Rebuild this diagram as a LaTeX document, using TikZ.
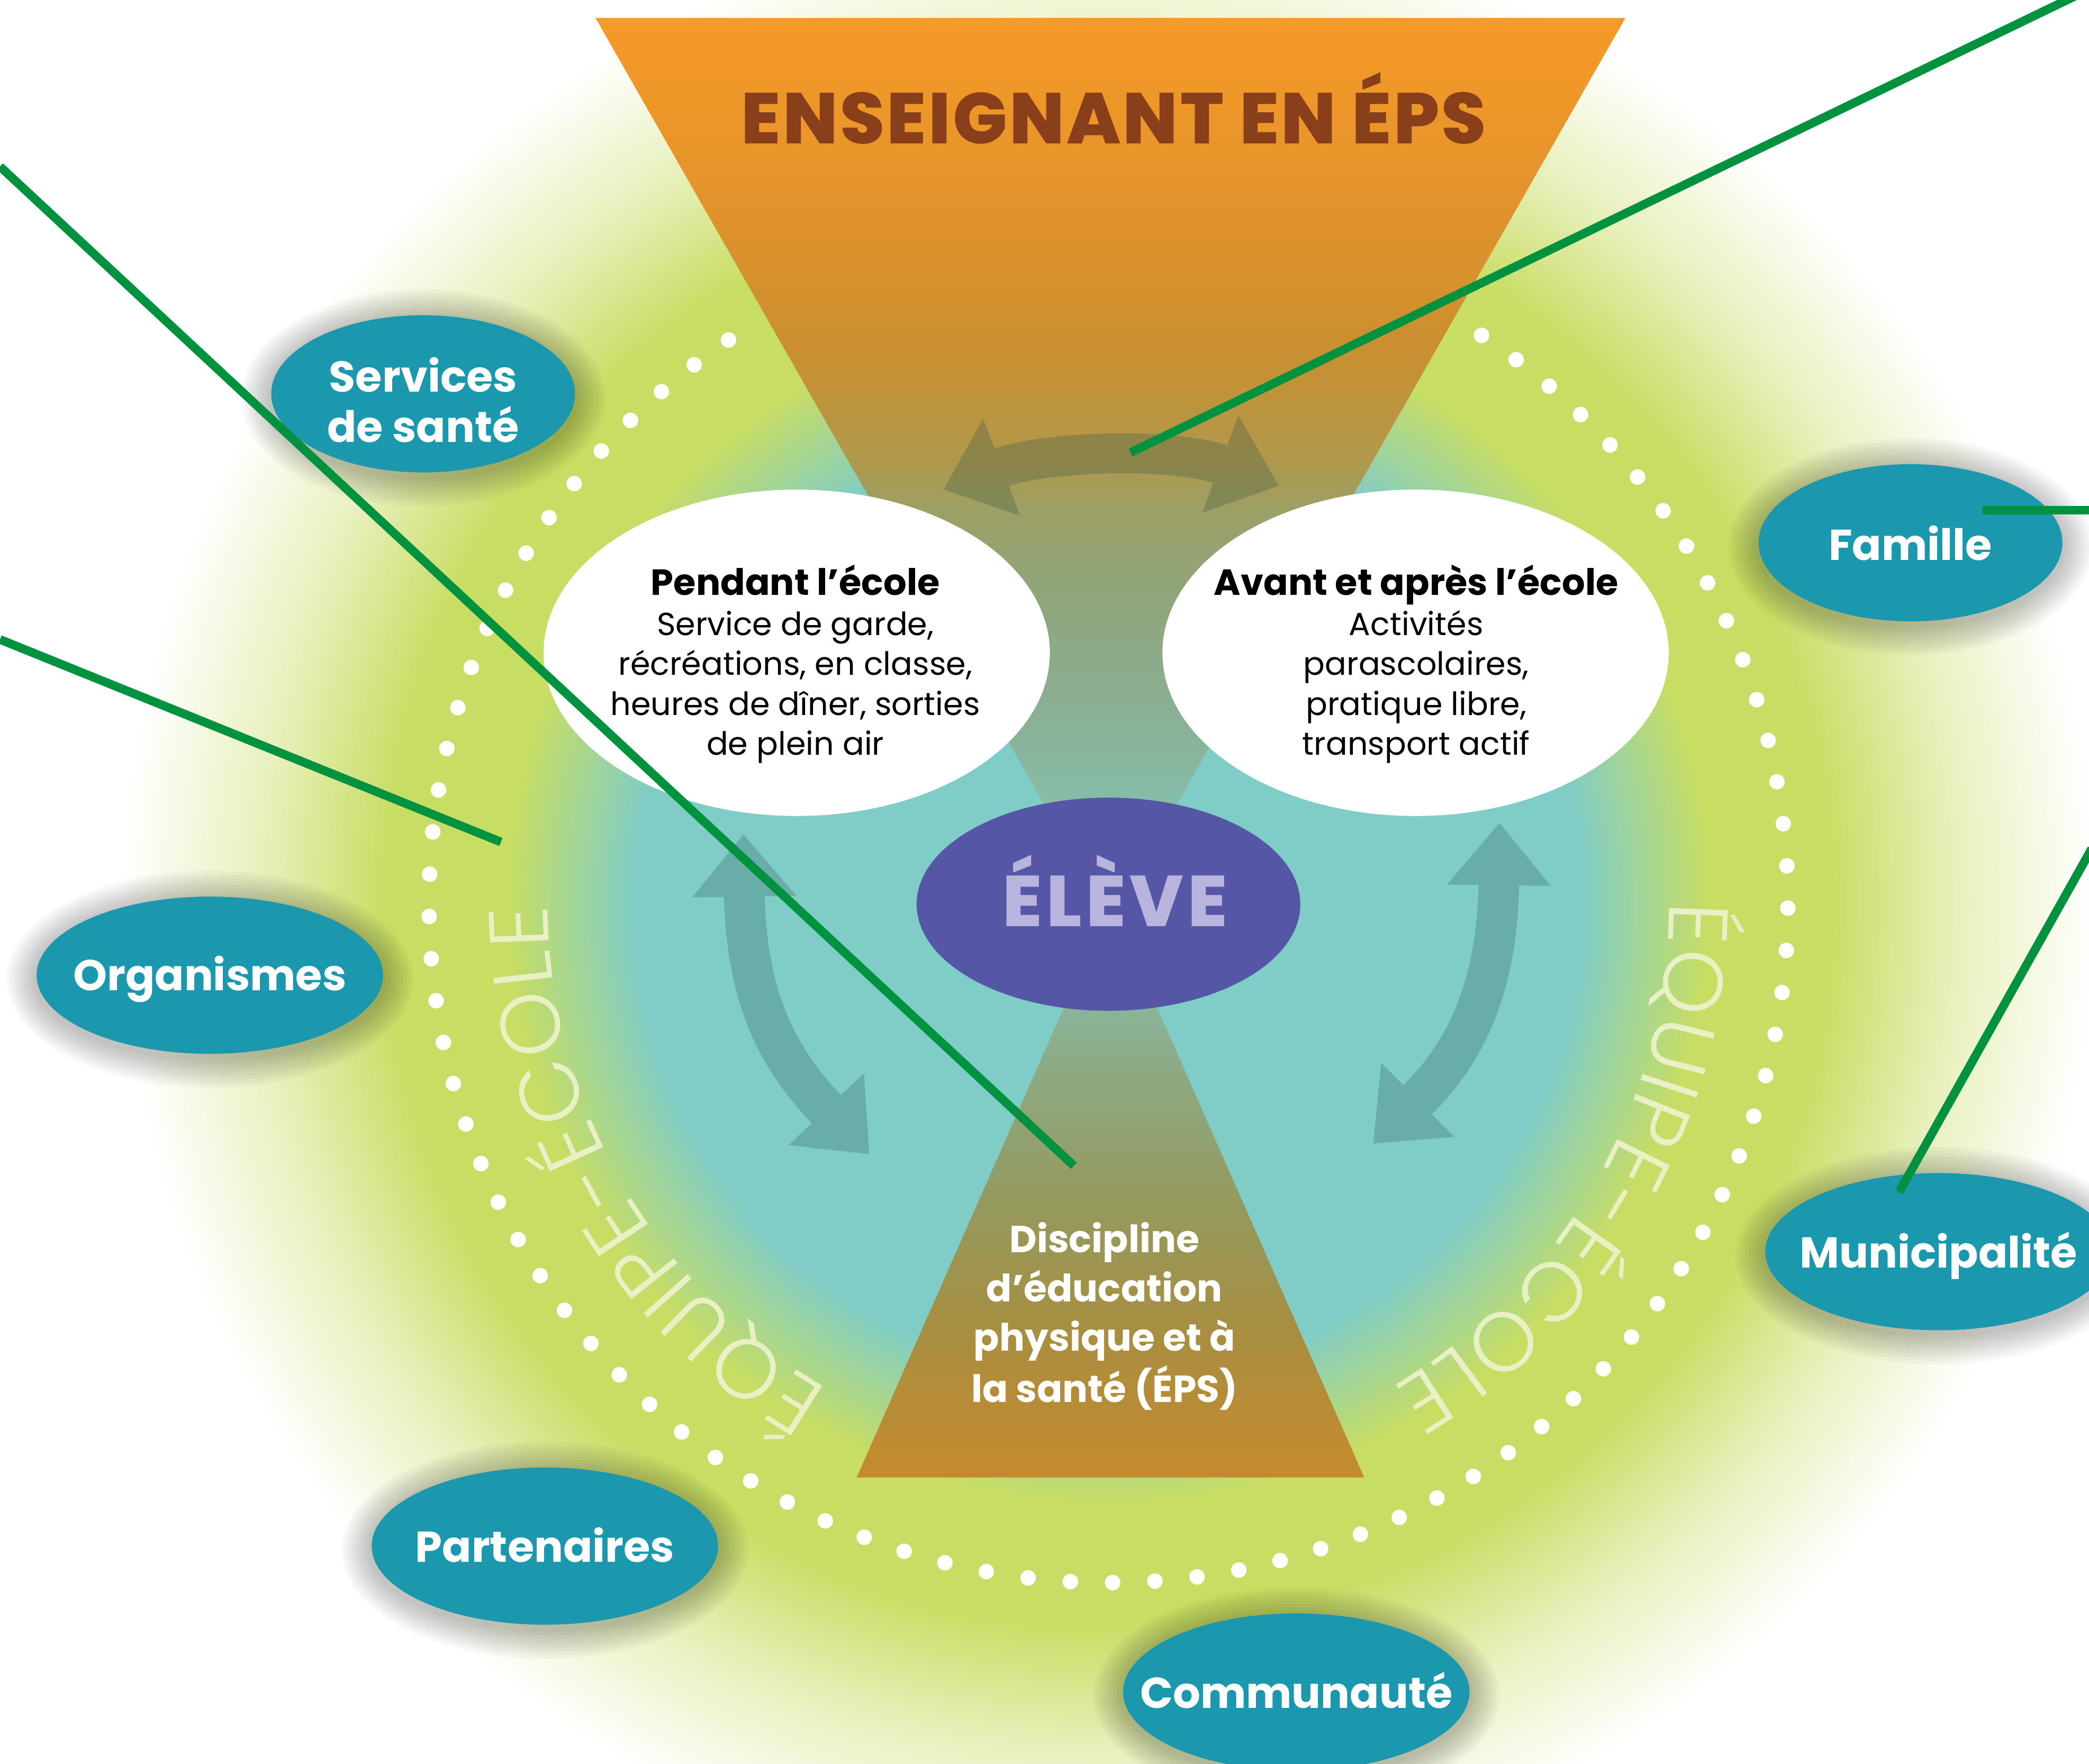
\documentclass[tikz,border=0pt]{standalone}
\usepackage{fontspec}
\setmainfont{Poppins}
\IfFontExistsTF{Poppins Light}{\newfontfamily\eqfam{Poppins Light}}{\newfontfamily\eqfam{Poppins}}
\IfFontExistsTF{Poppins ExtraBold}{\newfontfamily\heavyfam{Poppins ExtraBold}[LetterSpace=3]}{\newfontfamily\heavyfam{Poppins}[LetterSpace=3,FakeBold=1]}
\IfFontExistsTF{Poppins ExtraBold}{\newfontfamily\elevefam{Poppins ExtraBold}[LetterSpace=6]}{\newfontfamily\elevefam{Poppins}[LetterSpace=6,FakeBold=1]}
\usetikzlibrary{arrows.meta,decorations.text,calc,shapes.geometric}
\newcommand\myfs[2]{\fontsize{#1}{#2}\selectfont}

\definecolor{tealbg}{HTML}{80CDC7}
\definecolor{greenbg}{HTML}{C8DD63}
\definecolor{glowlt}{HTML}{E8F0BC}
\definecolor{bluelab}{HTML}{1B97AE}
\definecolor{eleve}{HTML}{5557A6}
\definecolor{elevetxt}{HTML}{B9B4DE}
\definecolor{ensbrown}{HTML}{8A3F1B}
\definecolor{leader}{HTML}{00923F}
\definecolor{sidearrow}{HTML}{69ADA9}
\definecolor{toparrow}{HTML}{5A6A4A}
\definecolor{eqtxt}{HTML}{E9F1C4}
% top funnel colours (bottom -> top)
\definecolor{t0}{HTML}{80CDC7}
\definecolor{t1}{HTML}{86BCA8}
\definecolor{t2}{HTML}{8BAE90}
\definecolor{t3}{HTML}{90A47A}
\definecolor{t4}{HTML}{9BA066}
\definecolor{t5}{HTML}{B2984A}
\definecolor{t6}{HTML}{CB8F2F}
\definecolor{t7}{HTML}{E3932B}
\definecolor{t8}{HTML}{F69A28}
% bottom triangle colours (bottom -> top)
\definecolor{b0}{HTML}{C68A2E}
\definecolor{b1}{HTML}{A88E40}
\definecolor{b2}{HTML}{959A5E}
\definecolor{b3}{HTML}{8DAA85}
\definecolor{b4}{HTML}{88B8A0}
\definecolor{b5}{HTML}{82C8BE}

% TikZ maps the central 50bp x 50bp of a shading onto the path's bounding box
\pgfdeclareradialshading{glowshade}{\pgfpoint{0bp}{0bp}}{color(0bp)=(tealbg); color(12bp)=(tealbg); color(15.25bp)=(greenbg); color(18.25bp)=(greenbg); color(21.5bp)=(glowlt); color(25bp)=(white); color(50bp)=(white)}
\pgfdeclareverticalshading{topshade}{100bp}{color(0bp)=(t0); color(25bp)=(t0); color(31.7bp)=(t1); color(37.25bp)=(t2); color(43.45bp)=(t3); color(47.6bp)=(t4); color(50.9bp)=(t5); color(56.85bp)=(t6); color(64.95bp)=(t7); color(75bp)=(t8); color(100bp)=(t8)}
\pgfdeclareverticalshading{botshade}{100bp}{color(0bp)=(b0); color(25bp)=(b0); color(37.5bp)=(b1); color(49bp)=(b2); color(60.75bp)=(b3); color(67.5bp)=(b4); color(75bp)=(b5); color(100bp)=(b5)}

\tikzset{
  blueell/.style={ellipse, fill=bluelab, inner sep=0pt, minimum height=118},
  bluetxt/.style={anchor=base, inner sep=0pt, text=white, font=\bfseries\myfs{32.4}{36}},
  whiteell/.style={ellipse, fill=white, inner sep=0pt, minimum width=380, minimum height=245},
  bodytxt/.style={anchor=base, inner sep=0pt, text=black, font=\myfs{24}{30}},
  headtxt/.style={font=\bfseries\myfs{27.3}{30}},
  leaderline/.style={draw=leader, line width=6.5},
  dblarrow/.style={{Triangle[length=47pt,width=75pt]}-{Triangle[length=47pt,width=75pt]}},
}

\newcommand\blueblob[6]{%
  \foreach \k in {1,...,9}{\fill[black,opacity=0.028] (#2,#3-3) ellipse[x radius={#4/2+2.5*\k}, y radius={59+2.5*\k}];}
  \node[blueell, minimum width=#4] (#1) at (#2,#3) {};
  \node[bluetxt] (#1txt) at (#2,#3-#5) {#6};
}

\begin{document}
\begin{tikzpicture}[x=1pt,y=1pt]
\useasboundingbox (0,0) rectangle (1568,-1324);
\clip (0,0) rectangle (1568,-1324);
\fill[white] (0,0) rectangle (1568,-1324);
\coordinate (C) at (832,-678);

% glow
\shade[shading=glowshade] (C) circle[radius=740];

% dotted ring
\foreach \i in {0,...,82} \fill[white] ($(C)+({124+\i*3.5695}:510)$) circle[radius=5.8];

% curved texts
\path[decorate, decoration={text along path, text align={fit to path}, text color=eqtxt,
  text={|\eqfam\myfs{63}{63}|ÉQUIPE-ÉCOLE}}]
  ($(C)+(240:421)$) arc[start angle=240, end angle=180.2, radius=421];
\path[decorate, decoration={text along path, text align={fit to path}, text color=eqtxt,
  text={|\eqfam\myfs{63}{63}|ÉQUIPE-ÉCOLE}}]
  ($(C)+(0.2:421)$) arc[start angle=0.2, end angle=-59.6, radius=421];

% funnels
\shade[shading=topshade] (447,-13.5) -- (1220,-13.5) -- (833.5,-691) -- cycle;
\shade[shading=botshade] (643,-1109) -- (1024,-1109) -- (833.5,-677) -- cycle;

% top double arrow
\coordinate (taL) at (708,-367.5);
\coordinate (taR) at (960,-364.7);
\begin{scope}[transparency group, opacity=0.42]
\draw[toparrow, line width=30, dblarrow] (taL) .. controls (785,-338) and (883,-336) .. (taR);
\end{scope}

% white ellipses
\node[whiteell] (pend) at (598,-490) {};
\node[whiteell] (avap) at (1062.5,-490) {};
\node[bodytxt] (pendtxt) at (597,-446.8) {\begin{tabular}[t]{@{}c@{}}{\bfseries\myfs{27.3}{30}Pendant l’école}\\Service de garde,\\récréations, en classe,\\heures de dîner, sorties\\de plein air\end{tabular}};
\node[bodytxt] (avaptxt) at (1063,-446.8) {\begin{tabular}[t]{@{}c@{}}{\bfseries\myfs{27.3}{30}Avant et après l’école}\\Activités\\parascolaires,\\pratique libre,\\transport actif\end{tabular}};

% side double arrows
\coordinate (laT) at (558,-626);
\coordinate (laB) at (652.7,-866.5);
\draw[sidearrow, line width=30.5, dblarrow] (laT) .. controls (560,-760) and (592,-803) .. (laB);
\coordinate (raT) at (1125.5,-617.5);
\coordinate (raB) at (1030.6,-858.5);
\draw[sidearrow, line width=30.5, dblarrow] (raT) .. controls (1124,-755) and (1090,-800) .. (raB);

% eleve
\node[ellipse, fill=eleve, inner sep=0pt, minimum width=288, minimum height=160] (eleve) at (832,-678.7) {};
\node[anchor=base, inner sep=0pt, text=elevetxt, font=\elevefam\myfs{54}{54}] (elevelbl) at (837,-695.3) {ÉLÈVE};

% titles
\node[anchor=base, inner sep=0pt, text=ensbrown, font=\heavyfam\myfs{54}{54}] (ens) at (836,-108) {ENSEIGNANT EN ÉPS};
\node[anchor=base, inner sep=0pt, text=white, font=\bfseries\myfs{28.3}{37}] (disc) at (829,-940) {\begin{tabular}[t]{@{}c@{}}Discipline\\d’éducation\\physique et à\\la santé (ÉPS)\end{tabular}};

% partner ellipses
\blueblob{sante}{317.6}{-295.6}{228}{-1.6}{\begin{tabular}[t]{@{}c@{}}Services\\de santé\end{tabular}}
\blueblob{famille}{1434}{-407.4}{228}{13}{Famille}
\blueblob{org}{157.5}{-732}{260}{11.5}{Organismes}
\blueblob{muni}{1455}{-939.5}{260}{12}{Municipalité}
\blueblob{part}{409}{-1160.5}{260}{12}{Partenaires}
\blueblob{comm}{973}{-1270}{260}{12}{Communauté}

% green leader lines
\coordinate (gA1) at (0,-125);
\coordinate (gA2) at (806,-875);
\coordinate (gB1) at (0,-480);
\coordinate (gB2) at (376,-632);
\coordinate (gC1) at (1568,8);
\coordinate (gC2) at (848.6,-339.7);
\coordinate (gD1) at (1488,-383);
\coordinate (gD2) at (1570,-383);
\coordinate (gE1) at (1570,-637);
\coordinate (gE2) at (1425.5,-894.7);
\draw[leaderline] (gA1) -- (gA2);
\draw[leaderline] (gB1) -- (gB2);
\draw[leaderline] (gC1) -- (gC2);
\draw[leaderline] (gD1) -- (gD2);
\draw[leaderline] (gE1) -- (gE2);
\end{tikzpicture}
\end{document}
